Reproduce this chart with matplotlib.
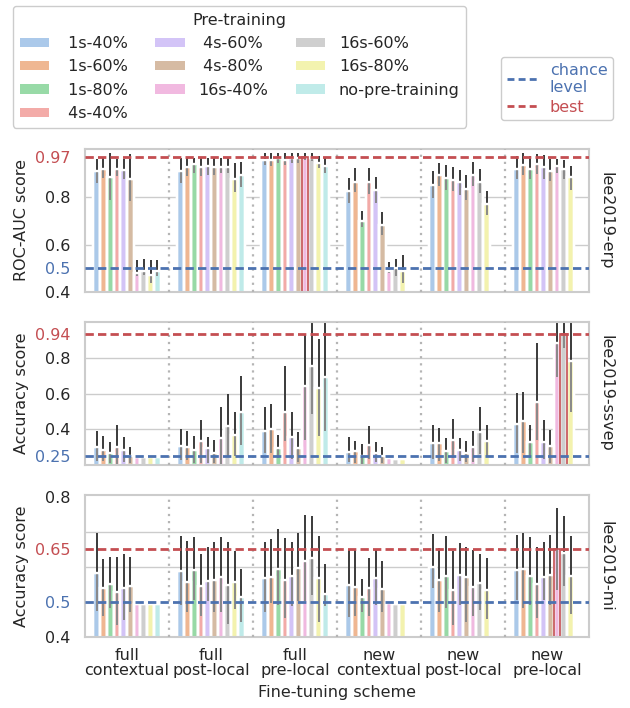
import numpy as np
import matplotlib
matplotlib.use("Agg")
import matplotlib.pyplot as plt
import colorsys
from matplotlib.patches import Patch
from matplotlib.lines import Line2D
from matplotlib.colors import to_rgb

nan = np.nan

schemes = ["full\ncontextual", "full\npost-local", "full\npre-local",
           "new\ncontextual", "new\npost-local", "new\npre-local"]
hues = [" 1s-40%", " 1s-60%", " 1s-80%", " 4s-40%", " 4s-60%", " 4s-80%",
        "16s-40%", "16s-60%", "16s-80%", "no-pre-training"]
pastel = ["#a1c9f4", "#ffb482", "#8de5a1", "#ff9f9b", "#d0bbff",
          "#debb9b", "#fab0e4", "#cfcfcf", "#fffea3", "#b9f2f0"]

# ---------------- lee2019-erp (ROC-AUC) ----------------
erp_mean = [
    [0.910, 0.920, 0.885, 0.920, 0.915, 0.880, 0.480, 0.490, 0.470, 0.490],
    [0.914, 0.930, 0.943, 0.928, 0.934, 0.930, 0.930, 0.928, 0.878, 0.893],
    [0.960, 0.960, 0.965, 0.960, 0.965, 0.965, 0.970, 0.967, 0.946, 0.935],
    [0.826, 0.867, 0.700, 0.864, 0.830, 0.685, 0.490, 0.500, 0.490, nan],
    [0.854, 0.893, 0.883, 0.873, 0.864, 0.836, 0.897, 0.867, 0.774, nan],
    [0.922, 0.939, 0.922, 0.943, 0.930, 0.911, 0.934, 0.920, 0.887, nan],
]
erp_lo = [
    [0.862, 0.883, 0.788, 0.890, 0.876, 0.783, 0.468, 0.472, 0.440, 0.468],
    [0.862, 0.890, 0.904, 0.890, 0.893, 0.893, 0.904, 0.904, 0.822, 0.843],
    [0.939, 0.935, 0.944, 0.939, 0.946, 0.944, 0.958, 0.953, 0.925, 0.904],
    [0.777, 0.822, 0.675, 0.816, 0.777, 0.642, 0.479, 0.468, 0.437, nan],
    [0.798, 0.847, 0.833, 0.826, 0.812, 0.791, 0.847, 0.819, 0.727, nan],
    [0.876, 0.897, 0.878, 0.901, 0.876, 0.868, 0.904, 0.878, 0.833, nan],
]
erp_hi = [
    [0.963, 0.968, 0.989, 0.961, 0.963, 0.982, 0.536, 0.539, 0.536, 0.536],
    [0.965, 0.968, 0.965, 0.965, 0.965, 0.965, 0.968, 0.965, 0.946, 0.951],
    [0.989, 0.989, 0.989, 0.986, 0.989, 0.989, 0.989, 0.989, 0.975, 0.968],
    [0.883, 0.925, 0.741, 0.925, 0.887, 0.737, 0.525, 0.539, 0.557, nan],
    [0.911, 0.946, 0.939, 0.929, 0.918, 0.893, 0.949, 0.921, 0.829, nan],
    [0.975, 0.986, 0.975, 0.982, 0.978, 0.963, 0.963, 0.958, 0.935, nan],
]

# ---------------- lee2019-ssvep (accuracy) ----------------
ssvep_mean = [
    [0.299, 0.286, 0.267, 0.303, 0.286, 0.248, 0.245, 0.245, 0.245, 0.245],
    [0.309, 0.303, 0.284, 0.337, 0.295, 0.267, 0.350, 0.419, 0.370, 0.499],
    [0.394, 0.400, 0.293, 0.499, 0.356, 0.295, 0.642, 0.760, 0.632, 0.693],
    [0.274, 0.278, 0.251, 0.314, 0.270, 0.248, 0.240, 0.236, 0.236, nan],
    [0.322, 0.322, 0.280, 0.341, 0.286, 0.270, 0.299, 0.385, 0.335, nan],
    [0.432, 0.446, 0.328, 0.553, 0.328, 0.309, 0.884, 0.940, 0.785, nan],
]
ssvep_lo = [
    [0.223, 0.223, 0.213, 0.204, 0.217, 0.213, 0.242, 0.242, 0.240, 0.242],
    [0.229, 0.229, 0.213, 0.213, 0.213, 0.213, 0.194, 0.251, 0.251, 0.312],
    [0.270, 0.270, 0.242, 0.337, 0.232, 0.217, 0.343, 0.486, 0.362, 0.394],
    [0.217, 0.213, 0.204, 0.232, 0.217, 0.213, 0.236, 0.233, 0.233, nan],
    [0.232, 0.223, 0.213, 0.242, 0.223, 0.219, 0.217, 0.261, 0.251, nan],
    [0.270, 0.270, 0.242, 0.341, 0.232, 0.213, 0.693, 0.861, 0.499, nan],
]
ssvep_hi = [
    [0.390, 0.366, 0.328, 0.427, 0.360, 0.303, 0.248, 0.248, 0.252, 0.248],
    [0.404, 0.389, 0.366, 0.451, 0.360, 0.341, 0.524, 0.598, 0.499, 0.703],
    [0.527, 0.543, 0.371, 0.760, 0.499, 0.385, 0.937, 1.000, 0.912, 1.000],
    [0.356, 0.337, 0.318, 0.417, 0.328, 0.299, 0.244, 0.239, 0.239, nan],
    [0.423, 0.408, 0.350, 0.457, 0.350, 0.337, 0.389, 0.524, 0.423, nan],
    [0.604, 0.610, 0.423, 0.884, 0.451, 0.398, 1.000, 1.000, 1.000, nan],
]

# ---------------- lee2019-mi (accuracy) ----------------
mi_mean = [
    [0.582, 0.539, 0.551, 0.528, 0.539, 0.546, 0.495, 0.495, 0.495, 0.495],
    [0.589, 0.556, 0.591, 0.546, 0.560, 0.563, 0.572, 0.549, 0.558, 0.513],
    [0.569, 0.571, 0.594, 0.563, 0.574, 0.596, 0.618, 0.625, 0.569, 0.523],
    [0.549, 0.544, 0.513, 0.541, 0.568, 0.536, 0.496, 0.494, 0.494, nan],
    [0.599, 0.563, 0.574, 0.534, 0.576, 0.571, 0.542, 0.553, 0.534, nan],
    [0.591, 0.594, 0.574, 0.551, 0.571, 0.577, 0.650, 0.639, 0.574, nan],
]
mi_lo = [
    [0.474, 0.461, 0.482, 0.434, 0.449, 0.472, 0.493, 0.493, 0.492, 0.493],
    [0.490, 0.470, 0.506, 0.460, 0.502, 0.472, 0.470, 0.437, 0.480, 0.444],
    [0.472, 0.497, 0.490, 0.453, 0.487, 0.503, 0.503, 0.520, 0.442, 0.487],
    [0.456, 0.460, 0.472, 0.460, 0.490, 0.472, 0.494, 0.492, 0.492, nan],
    [0.540, 0.470, 0.482, 0.434, 0.490, 0.444, 0.461, 0.477, 0.452, nan],
    [0.506, 0.482, 0.490, 0.453, 0.506, 0.490, 0.535, 0.545, 0.467, nan],
]
mi_hi = [
    [0.698, 0.622, 0.628, 0.628, 0.637, 0.629, 0.497, 0.497, 0.499, 0.497],
    [0.689, 0.674, 0.685, 0.637, 0.658, 0.672, 0.685, 0.670, 0.644, 0.594],
    [0.672, 0.679, 0.708, 0.682, 0.670, 0.698, 0.749, 0.744, 0.687, 0.609],
    [0.649, 0.649, 0.565, 0.625, 0.649, 0.618, 0.498, 0.496, 0.496, nan],
    [0.694, 0.653, 0.687, 0.644, 0.668, 0.656, 0.647, 0.637, 0.625, nan],
    [0.691, 0.696, 0.684, 0.656, 0.672, 0.691, 0.768, 0.746, 0.687, nan],
]

datasets = ["lee2019-erp", "lee2019-ssvep", "lee2019-mi"]
ylabels = ["ROC-AUC score", "Accuracy score", "Accuracy score"]
chance_levels = [0.5, 0.25, 0.5]
best_scores = [0.97, 0.94, 0.65]
best_cells = [(2, 6), (5, 7), (5, 6)]   # (scheme index, hue index)
ylims = [(0.4, 1.005), (0.2, 1.005), (0.4, 0.805)]
grid_values = [[0.6, 0.8], [0.4, 0.6, 0.8], [0.6, 0.7]]
plain_ticks = [[0.4, 0.6, 0.8], [0.4, 0.6, 0.8], [0.4, 0.8]]

panel_data = [(erp_mean, erp_lo, erp_hi),
              (ssvep_mean, ssvep_lo, ssvep_hi),
              (mi_mean, mi_lo, mi_hi)]

BLUE = "#4c72b0"
RED = "#c44e52"
TXT = "#262626"
EDGE = "#cccccc"
FS = 11.5
VEIL = 0.4   # white veil drawn over bars + error lines

plt.rcParams["font.family"] = ["DejaVu Sans"]
plt.rcParams["font.size"] = FS


def desat(c, prop=0.75):
    h, l, s = colorsys.rgb_to_hls(*to_rgb(c))
    return colorsys.hls_to_rgb(h, l, s * prop)


shown = [desat(c) for c in pastel]
# underlying colour such that after the white veil it looks like `shown`
bases = []
for c in shown:
    bases.append(tuple(min(1, max(0, (v - VEIL) / (1 - VEIL))) for v in c))

fig = plt.figure(figsize=(6.3, 7.08), dpi=100)
W, H = 630.0, 708.0
panel_px = [(149, 292), (322, 465), (495, 637)]
left_px, right_px = 85, 589

n_h = len(hues)
slot = 0.8 / n_h
axes = []
for p in range(3):
    top, bot = panel_px[p]
    ax = fig.add_axes([left_px / W, 1 - bot / H, (right_px - left_px) / W, (bot - top) / H])
    axes.append(ax)
    mean, lo, hi = [np.array(a, dtype=float) for a in panel_data[p]]
    ax.set_xlim(-0.5, len(schemes) - 0.5)
    ax.set_ylim(*ylims[p])
    for g in grid_values[p]:
        ax.axhline(g, color=EDGE, lw=1.0, zorder=0.5)
    for s in range(len(schemes)):
        for h in range(n_h):
            m = mean[s, h]
            if np.isnan(m):
                continue
            x = s - 0.4 + slot * (h + 0.5)
            is_best = (s, h) == best_cells[p]
            ax.bar(x, m, width=slot, color=bases[h], edgecolor="white",
                   linewidth=1.7, zorder=1)
            ax.vlines(x, lo[s, h], hi[s, h], color="#3a3a3a", lw=1.4, zorder=1.5)
            ax.bar(x, m, width=slot, color=(1, 1, 1, VEIL),
                   edgecolor=RED if is_best else "white",
                   linewidth=1.2 if is_best else 1.7, zorder=2.5 if is_best else 2)
    for b in np.arange(0.5, len(schemes) - 0.5, 1.0):
        ax.axvline(b, color="#b5b5b5", ls=(0, (1, 2.2)), lw=1.6, zorder=2.8)
    ax.axhline(chance_levels[p], color=BLUE, ls="--", lw=2.0, dashes=(3, 1.5), zorder=3)
    ax.axhline(best_scores[p], color=RED, ls="--", lw=2.0, dashes=(3, 1.5), zorder=3)

    ticks = sorted(plain_ticks[p] + [chance_levels[p], best_scores[p]])
    ax.set_yticks(ticks)
    ax.set_yticklabels([f"{t:g}" for t in ticks])
    for t, lab in zip(ticks, ax.get_yticklabels()):
        if t == chance_levels[p]:
            lab.set_color(BLUE)
        elif t == best_scores[p]:
            lab.set_color(RED)
        else:
            lab.set_color(TXT)
    ax.tick_params(axis="y", length=0, labelsize=FS, pad=10.5)
    for sp in ax.spines.values():
        sp.set_color(EDGE)
        sp.set_linewidth(1.5)
    ax.set_xticks(range(len(schemes)))
    ax.tick_params(axis="x", length=0, labelsize=FS, pad=8)
    if p < 2:
        ax.set_xticklabels([])
    else:
        ax.set_xticklabels(schemes, color=TXT, linespacing=1.0)
    ax.text(1.018, 0.5, datasets[p], rotation=270, transform=ax.transAxes,
            ha="left", va="center", fontsize=FS, color=TXT)
    fig.text(22 / W, 1 - ((top + bot) / 2) / H, ylabels[p], rotation=90,
             ha="center", va="center", fontsize=FS, color=TXT)

fig.text((left_px + right_px) / 2 / W, 1 - 692 / H, "Fine-tuning scheme",
         ha="center", va="center", fontsize=FS, color=TXT)

handles = [Patch(facecolor=c, edgecolor="none") for c in shown]
leg1 = fig.legend(handles, hues, ncol=3, title="Pre-training",
                  loc="upper left", bbox_to_anchor=(13 / W, 1 - 6 / H),
                  frameon=True, fontsize=FS, title_fontsize=FS,
                  handlelength=1.85, handleheight=0.5, handletextpad=0.85,
                  columnspacing=1.72, labelspacing=0.52, borderpad=0.42,
                  borderaxespad=0, fancybox=True, framealpha=1, edgecolor=EDGE)
for t in leg1.get_texts():
    t.set_color(TXT)
leg1.get_title().set_color(TXT)

ref_handles = [Line2D([], [], color=BLUE, ls="--", lw=2.0, dashes=(2.5, 1.5)),
               Line2D([], [], color=RED, ls="--", lw=2.0, dashes=(2.5, 1.5))]
leg2 = fig.legend(ref_handles, ["chance\nlevel", "best"],
                  loc="upper left", bbox_to_anchor=(501 / W, 1 - 57 / H),
                  frameon=True, fontsize=FS, handlelength=1.9, handletextpad=0.8,
                  labelspacing=0.3, borderpad=0.35, borderaxespad=0,
                  fancybox=True, framealpha=1, edgecolor=EDGE)
leg2.get_texts()[0].set_color(BLUE)
leg2.get_texts()[1].set_color(RED)

fig.savefig("out.png", dpi=100)
